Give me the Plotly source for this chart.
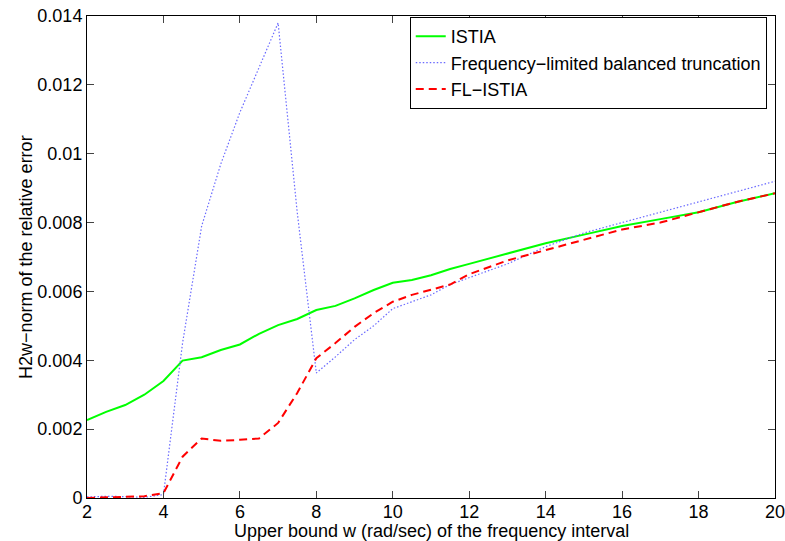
import plotly.graph_objects as go

w = [2, 2.5, 3, 3.5, 4, 4.5, 5, 5.5, 6, 6.5, 7, 7.5, 8, 8.5, 9, 9.5, 10, 10.5, 11, 11.5, 12,
     13, 14, 15, 16, 17, 18, 19, 20]
istia = [0.00226, 0.0025, 0.0027, 0.0030, 0.0034, 0.00399, 0.00409, 0.0043, 0.00446, 0.00477, 0.00502,
         0.0052, 0.00546, 0.00558, 0.0058, 0.00604, 0.00625, 0.00633, 0.00647, 0.00665, 0.0068,
         0.0071, 0.0074, 0.00765, 0.0079, 0.0081, 0.0083, 0.0086, 0.00885]
flbt = [0.00003, 0.00005, 0.00004, 0.00002, 0.0001, 0.0045, 0.0079, 0.0097, 0.0112, 0.0125, 0.0138,
        0.0083, 0.00363, 0.0041, 0.0046, 0.0050, 0.0055, 0.0057, 0.0059, 0.0062, 0.0064,
        0.0068, 0.0073, 0.0077, 0.0080, 0.0083, 0.0086, 0.0089, 0.0092]
flistia = [0.0, 0.00001, 0.00002, 0.00005, 0.00014, 0.0012, 0.00173, 0.00166, 0.00169, 0.00173, 0.00218,
           0.00305, 0.00406, 0.0045, 0.00497, 0.00537, 0.0057, 0.0059, 0.00605, 0.0062, 0.0065,
           0.0069, 0.0072, 0.0075, 0.0078, 0.0080, 0.0083, 0.0086, 0.00885]

xticks = [2, 4, 6, 8, 10, 12, 14, 16, 18, 20]
yticks = [0, 0.002, 0.004, 0.006, 0.008, 0.01, 0.012, 0.014]
yticktext = ["0", "0.002", "0.004", "0.006", "0.008", "0.01", "0.012", "0.014"]

FAM = "Liberation Sans, Arial, Helvetica, sans-serif"

fig = go.Figure()
fig.add_trace(go.Scatter(x=w, y=istia, mode="lines", name="ISTIA",
                         line=dict(color="#00ff00", width=2)))
fig.add_trace(go.Scatter(x=w, y=flbt, mode="lines", name="Frequency\u2212limited balanced truncation",
                         line=dict(color="#6a6aff", width=1.2, dash="1.5px,2px")))
fig.add_trace(go.Scatter(x=w, y=flistia, mode="lines", name="FL\u2212ISTIA",
                         line=dict(color="#ff0000", width=2, dash="8px,5px")))

font = dict(family=FAM, size=18, color="black")
fig.update_layout(
    width=785, height=541,
    margin=dict(l=87, r=10, t=16, b=43, autoexpand=False),
    paper_bgcolor="white", plot_bgcolor="white",
    font=font,
    showlegend=True,
    legend=dict(x=0.988, y=0.998, xanchor="right", yanchor="top",
                bgcolor="white", bordercolor="black", borderwidth=1,
                font=dict(family=FAM, size=18, color="black"),
                tracegroupgap=0, itemwidth=30),
    xaxis=dict(range=[2, 20], tickvals=xticks, ticks="inside", ticklen=7,
               showline=True, linecolor="black", linewidth=1, mirror="ticks",
               showgrid=False, zeroline=False, tickfont=font, automargin=False,
               ticklabeloverflow="allow", ticklabelstandoff=-3),
    yaxis=dict(range=[0, 0.014], tickvals=yticks, ticktext=yticktext, ticks="inside", ticklen=7,
               showline=True, linecolor="black", linewidth=1, mirror="ticks",
               showgrid=False, zeroline=False, tickfont=font, automargin=False,
               ticklabeloverflow="allow"),
    annotations=[
        dict(text="Upper bound w (rad/sec) of the frequency interval", xref="paper", yref="paper",
             x=0.5, y=-0.0435, xanchor="center", yanchor="top", showarrow=False, font=font),
        dict(text="H2w\u2212norm of the relative error", xref="paper", yref="paper",
             x=-0.0887, y=0.5, xanchor="center", yanchor="middle", textangle=-90,
             showarrow=False, font=font),
    ],
)
fig.write_html("out.html", config={"displayModeBar": False},
               post_script="document.body.style.margin='0';document.body.style.padding='0';document.body.style.overflow='hidden';")
